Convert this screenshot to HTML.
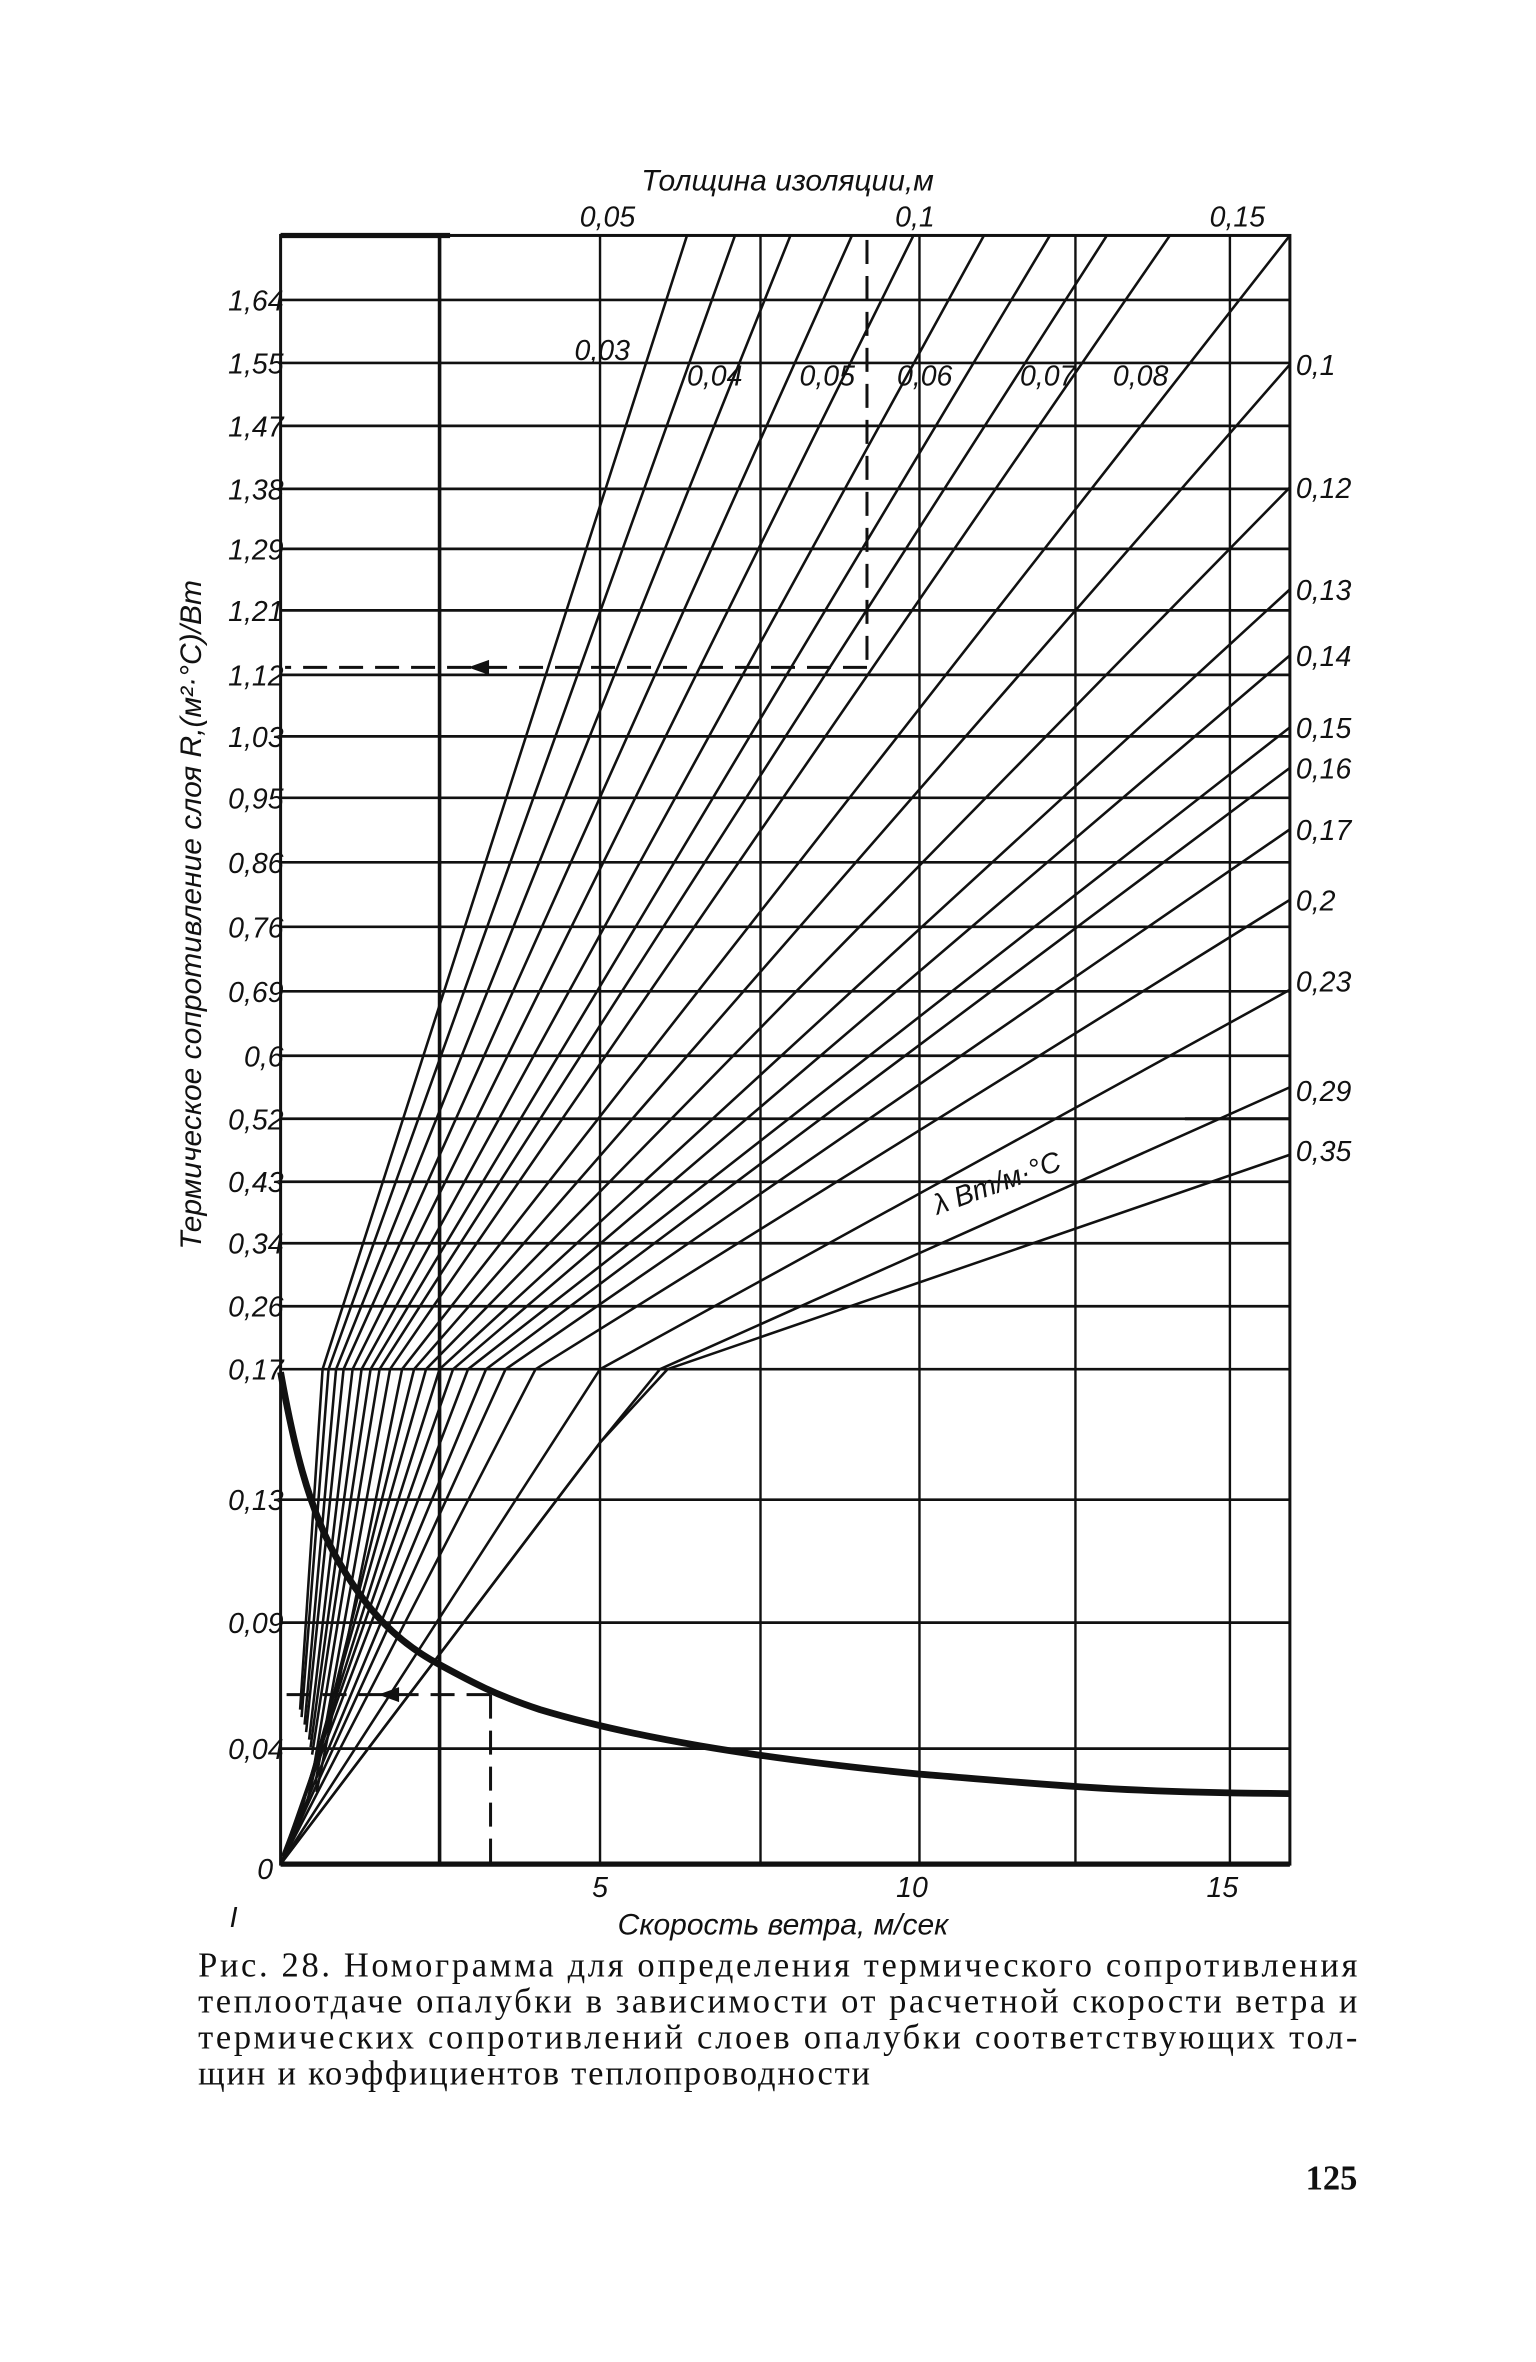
<!DOCTYPE html>
<html><head><meta charset="utf-8"><style>
html,body{margin:0;padding:0;background:#fff}
svg{display:block}
.t{font-family:"Liberation Sans",sans-serif;font-style:italic;fill:#111}
.c{font-family:"Liberation Serif",serif;fill:#111;font-size:23px}
</style></head><body>
<svg width="1536" height="2362" viewBox="0 0 1024 1575" xmlns="http://www.w3.org/2000/svg">
<rect width="1024" height="1575" fill="#fff"/>
<g stroke="#111" fill="none">
<rect x="187" y="157" width="673" height="1086" stroke-width="2"/>
<line x1="187" y1="1243" x2="860" y2="1243" stroke-width="3.5"/>
<line x1="187" y1="157" x2="300" y2="157" stroke-width="3.5"/>
<g stroke-width="1.6">
<line x1="293" y1="157" x2="293" y2="1243" stroke-width="2.4"/>
<line x1="400" y1="157" x2="400" y2="1243"/>
<line x1="507" y1="157" x2="507" y2="1243"/>
<line x1="613" y1="157" x2="613" y2="1243"/>
<line x1="717" y1="157" x2="717" y2="1243"/>
<line x1="820" y1="157" x2="820" y2="1243"/>
</g>
<g stroke-width="1.8">
<line x1="187" y1="200" x2="860" y2="200"/><line x1="187" y1="242" x2="860" y2="242"/>
<line x1="187" y1="284" x2="860" y2="284"/><line x1="187" y1="326" x2="860" y2="326"/>
<line x1="187" y1="366" x2="860" y2="366"/><line x1="187" y1="407" x2="860" y2="407"/>
<line x1="187" y1="450" x2="860" y2="450"/><line x1="187" y1="491" x2="860" y2="491"/>
<line x1="187" y1="532" x2="860" y2="532"/><line x1="187" y1="575" x2="860" y2="575"/>
<line x1="187" y1="618" x2="860" y2="618"/><line x1="187" y1="661" x2="860" y2="661"/>
<line x1="187" y1="704" x2="860" y2="704"/><line x1="187" y1="746" x2="860" y2="746"/>
<line x1="187" y1="788" x2="860" y2="788"/><line x1="187" y1="829" x2="860" y2="829"/>
<line x1="187" y1="871" x2="860" y2="871"/><line x1="187" y1="913" x2="860" y2="913"/>
<line x1="187" y1="1000" x2="860" y2="1000"/><line x1="187" y1="1082" x2="860" y2="1082"/>
<line x1="187" y1="1166" x2="860" y2="1166"/>
</g>
<g stroke-width="1.7">
<polyline points="200,1140 215,913 458,157"/>
<polyline points="201,1145 219,913 490,157"/>
<polyline points="203,1150 224,913 527,157"/>
<polyline points="204,1155 229,913 568,157"/>
<polyline points="206,1160 235,913 609,157"/>
<polyline points="207,1165 241,913 656,157"/>
<polyline points="208,1170 247,913 700,157"/>
<polyline points="209,1180 253,913 738,157"/>
<polyline points="210,1190 260,913 780,157"/>
<polyline points="211,1195 268,913 860,157"/>
<polyline points="205,1200 276,913 860,243"/>
<polyline points="200,1210 284,913 860,325"/>
<polyline points="196,1220 293,913 860,393"/>
<polyline points="192,1228 302,913 860,437"/>
<polyline points="188,1238 312,913 860,485"/>
<polyline points="187,1243 324,913 860,512"/>
<polyline points="187,1243 337,913 860,553"/>
<polyline points="187,1243 357,913 860,600"/>
<polyline points="187,1243 400,913 860,660"/>
<polyline points="187,1243 400,962 440,913 860,725"/>
<polyline points="187,1243 400,962 445,913 860,770"/>
</g>
<path d="M187,915 C195,960 205,1005 225,1040 C245,1075 265,1095 293,1110 C315,1122 330,1130 360,1140 C420,1158 500,1172 613,1183 C700,1190 740,1195 860,1196" stroke-width="4.5"/>
<g stroke-width="2" stroke-dasharray="16,8">
<line x1="578" y1="160" x2="578" y2="445"/>
<line x1="578" y1="445" x2="190" y2="445"/>
<line x1="327" y1="1130" x2="190" y2="1130"/>
<line x1="327" y1="1130" x2="327" y2="1243"/>
</g>
<line x1="790" y1="746" x2="860" y2="746" stroke-width="2"/>
</g>
<path d="M312,445 l14,-5 v10 z M252,1130 l14,-5 v10 z" fill="#111"/>
<g class="t" font-size="19">
<text x="525" y="127" text-anchor="middle" font-size="20">Толщина изоляции,м</text>
<text x="405" y="151" text-anchor="middle">0,05</text>
<text x="610" y="151" text-anchor="middle">0,1</text>
<text x="825" y="151" text-anchor="middle">0,15</text>
<g text-anchor="end">
<text x="189" y="207">1,64</text><text x="189" y="249">1,55</text><text x="189" y="291">1,47</text>
<text x="189" y="333">1,38</text><text x="189" y="373">1,29</text><text x="189" y="414">1,21</text>
<text x="189" y="457">1,12</text><text x="189" y="498">1,03</text><text x="189" y="539">0,95</text>
<text x="189" y="582">0,86</text><text x="189" y="625">0,76</text><text x="189" y="668">0,69</text>
<text x="189" y="711">0,6</text><text x="189" y="753">0,52</text><text x="189" y="795">0,43</text>
<text x="189" y="836">0,34</text><text x="189" y="878">0,26</text><text x="189" y="920">0,17</text>
<text x="189" y="1007">0,13</text><text x="189" y="1089">0,09</text><text x="189" y="1173">0,04</text>
<text x="182" y="1253">0</text>
</g>
<g>
<text x="864" y="250">0,1</text><text x="864" y="332">0,12</text><text x="864" y="400">0,13</text>
<text x="864" y="444">0,14</text><text x="864" y="492">0,15</text><text x="864" y="519">0,16</text>
<text x="864" y="560">0,17</text><text x="864" y="607">0,2</text><text x="864" y="661">0,23</text>
<text x="864" y="734">0,29</text><text x="864" y="774">0,35</text>
</g>
<text x="383" y="240">0,03</text>
<text x="458" y="257">0,04</text><text x="533" y="257">0,05</text><text x="598" y="257">0,06</text>
<text x="680" y="257">0,07</text><text x="742" y="257">0,08</text>
<text x="625" y="810" transform="rotate(-20 625 810)">λ Вт/м·°С</text>
<text x="400" y="1265" text-anchor="middle">5</text>
<text x="608" y="1265" text-anchor="middle">10</text>
<text x="815" y="1265" text-anchor="middle">15</text>
<text x="153" y="1285">I</text>
<text x="522" y="1290" text-anchor="middle" font-size="20">Скорость ветра, м/сек</text>
<text transform="translate(134,610) rotate(-90)" text-anchor="middle" font-size="20">Термическое сопротивление слоя R,(м²·°С)/Вт</text>
</g>
<g class="c">
<text x="132" y="1318" textLength="773" lengthAdjust="spacing">Рис. 28. Номограмма для определения термического сопротивления</text>
<text x="132" y="1342" textLength="773" lengthAdjust="spacing">теплоотдаче опалубки в зависимости от расчетной скорости ветра и</text>
<text x="132" y="1366" textLength="773" lengthAdjust="spacing">термических сопротивлений слоев опалубки соответствующих тол-</text>
<text x="132" y="1390" textLength="448" lengthAdjust="spacing">щин и коэффициентов теплопроводности</text>
<text x="905" y="1460" text-anchor="end" font-weight="bold">125</text>
</g>
</svg>
</body></html>
